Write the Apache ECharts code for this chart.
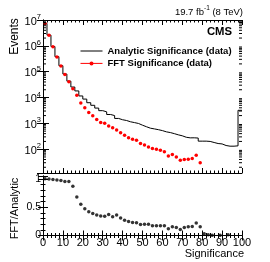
<!DOCTYPE html>
<html><head><meta charset="utf-8">
<script src="https://cdn.jsdelivr.net/npm/echarts@6/dist/echarts.min.js"></script>
<style>html,body{margin:0;padding:0;background:#fff}#c{width:270px;height:262px}</style>
</head><body><div id="c"></div>
<script>
const binCenters = [1,3,5,7,9,11,13,15,17,19,21,23,25,27,29,31,33,35,37,39,41,43,45,47,49,51,53,55,57,59,61,63,65,67,69,71,73,75,77,79,81,83,85,87,89,91,93,95,97,99];
const binEdges = [0,2,4,6,8,10,12,14,16,18,20,22,24,26,28,30,32,34,36,38,40,42,44,46,48,50,52,54,56,58,60,62,64,66,68,70,72,74,76,78,80,82,84,86,88,90,92,94,96,98,100];
const analytic = [7.4e6,2.6e6,9.4e5,3.8e5,1.7e5,8.1e4,4.3e4,2.55e4,1.8e4,1.15e4,8700,6300,5000,3900,3100,2800,2200,2000,1550,1380,1290,1150,1070,990,850,740,650,610,570,525,470,440,400,360,330,290,275,276,270,205,205,200,182,166,160,139,131,131,135,3200];
const fft = [7.3e6,2.55e6,9.2e5,3.7e5,1.65e5,7.8e4,4.1e4,2.2e4,1.23e4,6200,4000,2630,1950,1410,1070,1000,790,680,550,430,350,280,245,224,166,147,123,107,100,91,79,54,63,50,37,40,41,44,59,30,null,null,null,null,null,null,null,null,null,null];
const ratio = [1.0,0.995,0.99,0.98,0.97,0.955,0.955,0.87,0.68,0.55,0.47,0.42,0.39,0.36,0.345,0.34,0.37,0.33,0.36,0.31,0.27,0.245,0.23,0.226,0.196,0.2,0.2,0.173,0.173,0.173,0.173,0.119,0.155,0.143,0.107,0.143,0.155,0.16,0.22,0.155,0.03,0.012,0.006,null,0.003,null,0.012,null,null,null];
const seriesNames = ['Analytic Significance (data)', 'FFT Significance (data)'];
const ratioTicks = [0, 0.5, 1];

const FONT = 'Liberation Sans, Arial, sans-serif';
const logMin = 12, logMax = 1e7;

const stepData = binEdges.map((e, i) => [e, analytic[Math.min(i, analytic.length - 1)]]);
const fftData = binCenters.map((c, i) => [c, fft[i]]);
const ratioData = binCenters.map((c, i) => [c, ratio[i]]).filter(d => d[1] !== null);

const minorLog = [];
for (let e = 1; e <= 6; e++) for (let m = 2; m <= 9; m++) {
  const v = m * Math.pow(10, e);
  if (v >= logMin && v <= logMax) minorLog.push([0, v]);
}

const chart = echarts.init(document.getElementById('c'), null, {renderer: 'canvas'});

const axLine = {show: true, lineStyle: {color: '#000', width: 1}};
function xAx(gi, pos, labels) {
  return {
    type: 'value', gridIndex: gi, position: pos, min: 0, max: 100, interval: 10,
    axisLine: axLine,
    axisTick: {show: true, inside: true, length: 5, lineStyle: {color: '#000'}},
    minorTick: {show: true, splitNumber: 5, length: 2.5, lineStyle: {color: '#000'}},
    axisLabel: labels ? {show: true, margin: 2, fontSize: 11, color: '#000', fontFamily: FONT} : {show: false},
    splitLine: {show: false}
  };
}
function logAx(pos, labels) {
  return {
    type: 'log', logBase: 10, gridIndex: 0, position: pos, min: logMin, max: logMax,
    axisLine: axLine,
    axisTick: {show: true, inside: true, length: 6, lineStyle: {color: '#000'}},
    axisLabel: labels ? {
      show: true, margin: 2, showMinLabel: false, color: '#000', fontFamily: FONT,
      formatter: v => '{b|10}{s|' + Math.round(Math.log10(v)) + '}',
      rich: {
        b: {fontSize: 11, fontFamily: FONT, color: '#000', lineHeight: 14, verticalAlign: 'bottom'},
        s: {fontSize: 7.5, fontFamily: FONT, color: '#000', lineHeight: 14, verticalAlign: 'top', padding: [0, 0, 5, 0]}
      }
    } : {show: false},
    splitLine: {show: false}
  };
}
function ratioAx(pos, labels) {
  return {
    type: 'value', gridIndex: 1, position: pos, min: 0, max: 1.05, interval: 0.5,
    axisLine: axLine,
    axisTick: {show: true, inside: true, length: 5, lineStyle: {color: '#000'}},
    minorTick: {show: true, splitNumber: 5, length: 2.5, lineStyle: {color: '#000'}},
    axisLabel: labels ? {show: true, margin: 2, showMaxLabel: false, fontSize: 10.5, color: '#000', fontFamily: FONT,
      formatter: v => ratioTicks.indexOf(Math.round(v * 100) / 100) >= 0 ? String(Math.round(v * 100) / 100) : ''} : {show: false},
    splitLine: {show: false}
  };
}

const option = {
  animation: false,
  backgroundColor: '#fff',
  grid: [
    {left: 43, top: 20, width: 199, height: 153},
    {left: 43, top: 176, width: 199, height: 59.5}
  ],
  xAxis: [xAx(0, 'bottom', false), xAx(0, 'top', false), xAx(1, 'bottom', true), xAx(1, 'top', false)],
  yAxis: [logAx('left', true), logAx('right', false), ratioAx('left', true), ratioAx('right', false)],
  legend: {
    orient: 'vertical', left: 75, top: 40, itemWidth: 22, itemHeight: 5, itemGap: 0.4,
    selectedMode: false,
    textStyle: {fontSize: 9.5, fontWeight: 'bold', fontFamily: FONT, color: '#000', lineHeight: 12},
    data: [
      {name: seriesNames[0], itemStyle: {opacity: 0}, lineStyle: {opacity: 1, width: 1, color: '#000'}},
      {name: seriesNames[1], lineStyle: {opacity: 1, width: 1, color: '#ff0000'}}
    ]
  },
  series: [
    {
      name: seriesNames[0], type: 'line', xAxisIndex: 0, yAxisIndex: 0, step: 'end',
      data: stepData, symbol: 'none', lineStyle: {color: '#000', width: 1}, itemStyle: {color: '#000'},
      silent: true, z: 2
    },
    {
      name: seriesNames[1], type: 'line', xAxisIndex: 0, yAxisIndex: 0,
      data: fftData, symbol: 'circle', symbolSize: 3.5, showSymbol: true, connectNulls: false,
      lineStyle: {opacity: 0, color: '#ff0000'}, itemStyle: {color: '#ff0000'},
      silent: true, z: 3
    },
    {
      type: 'custom', xAxisIndex: 0, yAxisIndex: 0, data: minorLog, silent: true, clip: false, z: 4,
      renderItem: (params, api) => {
        const v = api.value(1);
        const p = api.coord([0, v]);
        const q = api.coord([100, v]);
        return {type: 'group', children: [
          {type: 'line', shape: {x1: p[0], y1: p[1], x2: p[0] + 3, y2: p[1]}, style: {stroke: '#000', lineWidth: 1}},
          {type: 'line', shape: {x1: q[0] - 3, y1: q[1], x2: q[0], y2: q[1]}, style: {stroke: '#000', lineWidth: 1}}
        ]};
      }
    },
    {
      name: 'ratio', type: 'scatter', xAxisIndex: 2, yAxisIndex: 2,
      data: ratioData, symbol: 'circle', symbolSize: 3.5, itemStyle: {color: '#000'}, silent: true
    }
  ],
  graphic: [
    {type: 'text', x: 15, y: 36.5, rotation: Math.PI / 2,
      style: {text: 'Events', fontSize: 12, fontFamily: FONT, fill: '#000', align: 'center', verticalAlign: 'middle'}},
    {type: 'text', x: 15, y: 208.5, rotation: Math.PI / 2,
      style: {text: 'FFT/Analytic', fontSize: 11, fontFamily: FONT, fill: '#000', align: 'center', verticalAlign: 'middle'}},
    {type: 'text', x: 244, y: 254,
      style: {text: 'Significance', fontSize: 11, fontFamily: FONT, fill: '#000', align: 'right', verticalAlign: 'middle'}},
    {type: 'text', x: 232, y: 31.7,
      style: {text: 'CMS', fontSize: 11.3, fontWeight: 'bold', fontFamily: FONT, fill: '#000', align: 'right', verticalAlign: 'middle'}},
    {type: 'text', x: 243, y: 11,
      style: {text: '{n|19.7 fb}{s|-1}{n| (8 TeV)}', align: 'right', verticalAlign: 'middle',
        rich: {
          n: {fontSize: 9.5, fontFamily: FONT, fill: '#000', color: '#000', lineHeight: 12, verticalAlign: 'bottom'},
          s: {fontSize: 6.5, fontFamily: FONT, fill: '#000', color: '#000', lineHeight: 12, verticalAlign: 'top'}
        }}}
  ]
};
chart.setOption(option);
</script>
</body></html>
